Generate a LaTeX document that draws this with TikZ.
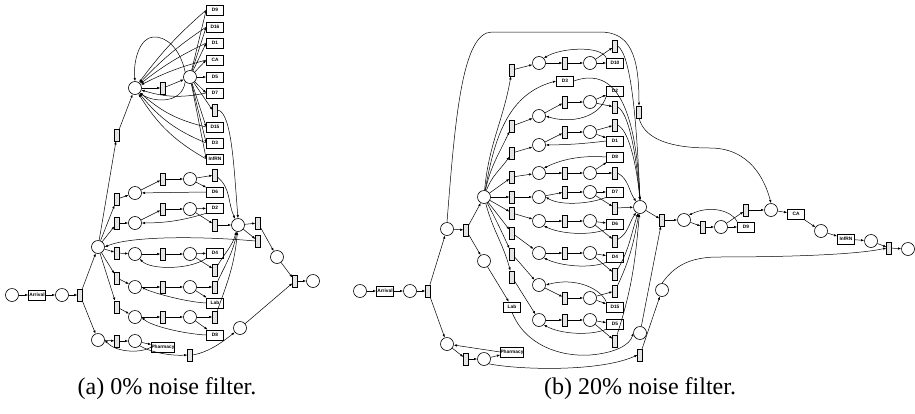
\documentclass[tikz,border=0pt]{standalone}
\usepackage{fontspec}
\setmainfont{Liberation Serif}
\setsansfont{Liberation Sans}
\usetikzlibrary{arrows.meta}
\begin{document}
\begin{tikzpicture}[x=0.5pt,y=-0.5pt,
 pl/.style={circle,draw,line width=0.3pt,minimum size=6.5pt,inner sep=0pt},
 tr/.style={rectangle,draw,fill=gray!20,line width=0.3pt,minimum width=2.3pt,minimum height=6pt,inner sep=0pt},
 bx/.style={rectangle,draw,line width=0.3pt,minimum width=8.5pt,minimum height=5pt,inner sep=0pt,font=\fontsize{2.4}{2.4}\sffamily\bfseries},
 ar/.style={-{Latex[length=1.6pt,width=1.2pt]},line width=0.25pt},
 captxt/.style={font=\fontsize{12}{14}\selectfont}]
\useasboundingbox (0,0) rectangle (915,413);
% ================= (a) =================
\node[pl] (a0) at (12,295) {};
\node[bx] (aArr) at (37,295) {Arrival};
\node[pl] (a1) at (62,295) {};
\node[tr] (at1) at (80,295) {};
\node[pl] (ahub) at (98,247) {};
\node[pl] (aph1) at (98,340) {};
\node[tr] (atph) at (117,341) {};
\node[pl] (aph2) at (135,341) {};
\node[bx,minimum width=11pt] (aPh) at (163,347) {Pharmacy};
\node[tr] (atpo) at (190,355) {};
\node[pl] (aph3) at (240,328) {};
\node[pl] (ajoin) at (238,225) {};
\node[tr] (atj1) at (258,223) {};
\node[tr] (atj2) at (258,241) {};
\node[pl] (apF) at (277,257) {};
\node[tr] (atF) at (295,281) {};
\node[pl] (aEnd) at (313,281) {};
% rows
\node[tr] (at11) at (117,199) {}; \node[pl] (ap11) at (135,193) {};
\node[tr] (at12) at (163,179) {}; \node[pl] (ap12) at (190,179) {};
\node[tr] (at13) at (215,175) {}; \node[bx] (aD6) at (215,192) {D6};
\node[tr] (at21) at (117,223) {}; \node[pl] (ap21) at (135,223) {};
\node[tr] (at22) at (163,209) {}; \node[pl] (ap22) at (190,209) {};
\node[bx] (aD2) at (215,208) {D2}; \node[tr] (at23) at (215,225) {};
\node[tr] (at31) at (117,253) {}; \node[pl] (ap31) at (135,254) {};
\node[tr] (at32) at (163,254) {}; \node[pl] (ap32) at (190,254) {};
\node[bx] (aD4) at (215,253) {D4}; \node[tr] (at33) at (215,270) {};
\node[tr] (at41) at (117,278) {}; \node[pl] (ap41) at (135,287) {};
\node[tr] (at42) at (163,287) {}; \node[pl] (ap42) at (190,287) {};
\node[tr] (at43) at (215,287) {}; \node[bx] (aLab) at (215,303) {Lab};
\node[tr] (at51) at (117,307) {}; \node[pl] (ap51) at (135,317) {};
\node[tr] (at52) at (163,317) {}; \node[pl] (ap52) at (190,317) {};
\node[tr] (at53) at (215,317) {}; \node[bx] (aD8) at (215,335) {D8};
% top
\node[tr] (atUp) at (117,135) {};
\node[pl] (aPt) at (135,88) {};
\node[tr] (atM) at (163,88) {};
\node[pl] (aPr) at (190,77) {};
\node[bx] (aD9) at (215,10) {D9};
\node[bx] (aD16) at (215,27) {D16};
\node[bx] (aD1) at (215,43) {D1};
\node[bx] (aCA) at (215,60) {CA};
\node[bx] (aD5) at (215,77) {D5};
\node[bx] (aD7) at (215,93) {D7};
\node[tr] (atx) at (215,110) {};
\node[bx] (aD15) at (215,127) {D15};
\node[bx] (aD3) at (215,143) {D3};
\node[bx] (aInf) at (215,159) {InfRN};
% edges (a)
\draw[ar] (a0)--(aArr); \draw[ar] (aArr)--(a1); \draw[ar] (a1)--(at1);
\draw[ar] (at1)--(ahub); \draw[ar] (at1)--(aph1);
\draw[ar] (ahub)--(atUp); \draw[ar] (atUp)--(aPt); \draw[ar] (aPt)--(atM); \draw[ar] (atM)--(aPr);
\foreach \b in {aD9,aD16,aD1,aCA,aD5,aD7,atx,aD15,aD3,aInf} \draw[ar] (aPr)--(\b.west);
\foreach \b in {aD9,aD16,aD1,aCA} \draw[ar] (\b.west) to[bend right=6] (aPt);
\foreach \b in {aD7,aD15,aD3,aInf} \draw[ar] (\b.west) to[bend left=14] (aPt);
\draw[ar] (aPr.north west) .. controls (180,48) and (166,36) .. (153,37) .. controls (140,38) and (133,60) .. (aPt.north);
\draw[ar] (aPr.south west) .. controls (182,105) and (152,102) .. (aPt.south east);
\draw[ar] (atx.east) .. controls (232,112) and (234,170) .. (ajoin.north);
\foreach \t in {at11,at21,at31,at41,at51} \draw[ar] (ahub)--(\t);
\draw[ar] (at11)--(ap11); \draw[ar] (ap11)--(at12); \draw[ar] (at12)--(ap12); \draw[ar] (ap12)--(at13);
\draw[ar] (ap12)--(aD6); \draw[ar] (aD6.west)--(ap11);
\draw[ar] (at13) to[out=-40,in=115] (ajoin);
\draw[ar] (at21)--(ap21); \draw[ar] (ap21)--(at22); \draw[ar] (at22)--(ap22);
\draw[ar] (ap22)--(aD2); \draw[ar] (ap22)--(at23);
\draw[ar] (aD2.south west) to[bend left=8] (ap21); \draw[ar] (at23)--(ajoin);
\draw[ar] (at31)--(ap31); \draw[ar] (ap31)--(at32); \draw[ar] (at32)--(ap32);
\draw[ar] (ap32)--(aD4); \draw[ar] (ap32)--(at33);
\draw[ar] (aD4.south west) .. controls (190,270) and (150,270) .. (ap31.south east);
\draw[ar] (at33) to[out=60,in=-105] (ajoin);
\draw[ar] (at41)--(ap41); \draw[ar] (ap41)--(at42); \draw[ar] (at42)--(ap42);
\draw[ar] (ap42)--(at43); \draw[ar] (ap42)--(aLab);
\draw[ar] (aLab.west) .. controls (185,302) and (150,292) .. (ap41.east);
\draw[ar] (at43) to[out=65,in=-100] (ajoin);
\draw[ar] (at51)--(ap51); \draw[ar] (ap51)--(at52); \draw[ar] (at52)--(ap52);
\draw[ar] (ap52)--(at53); \draw[ar] (ap52)--(aD8);
\draw[ar] (aD8.west) .. controls (185,334) and (150,326) .. (ap51.east);
\draw[ar] (at53) to[out=70,in=-95] (ajoin);
\draw[ar] (ajoin)--(atj1); \draw[ar] (ajoin)--(atj2);
\draw[ar] (atj2.west) .. controls (200,236) and (130,236) .. (ahub.east);
\draw[ar] (atj1)--(apF); \draw[ar] (apF)--(atF); \draw[ar] (atF)--(aEnd);
\draw[ar] (aph1)--(atph); \draw[ar] (atph)--(aph2); \draw[ar] (aph2)--(aPh);
\draw[ar] (aPh.west) .. controls (140,354) and (115,352) .. (aph1.east);
\draw[ar] (aph2.south east) .. controls (150,352) and (170,356) .. (atpo.west);
\draw[ar] (atpo.east) .. controls (210,352) and (225,340) .. (aph3);
\draw[ar] (aph3)--(atF);
% ================= (b) =================
\node[pl] (b0) at (360,291) {};
\node[bx] (bArr) at (385,291) {Arrival};
\node[pl] (b1) at (410,291) {};
\node[tr] (bt1) at (428,291) {};
\node[pl] (bPu) at (447,229) {};
\node[tr] (bTu) at (466,230) {};
\node[pl] (bhub) at (484,197) {};
\node[pl] (bPlab) at (484,261) {};
\node[bx] (bLab) at (512,307) {Lab};
\node[pl] (bPlow) at (447,344) {};
\node[tr] (btlow) at (466,359) {};
\node[pl] (bplow2) at (484,359) {};
\node[bx,minimum width=11pt] (bPh) at (512,352) {Pharmacy};
% rows
\node[tr] (b10a) at (512,70) {}; \node[pl] (b10b) at (539,63) {}; \node[tr] (b10c) at (565,63) {};
\node[pl] (b10d) at (590,63) {}; \node[bx] (bD10) at (615,63) {D10}; \node[tr] (b10e) at (615,46) {};
\node[bx] (bD3) at (565,81) {D3};
\node[tr] (b2a) at (512,126) {}; \node[pl] (b2b) at (539,116) {}; \node[tr] (b2c) at (565,102) {};
\node[pl] (b2d) at (590,102) {}; \node[bx] (bD2) at (615,91) {D2}; \node[tr] (b2e) at (615,107) {};
\node[tr] (b1a) at (512,153) {}; \node[pl] (b1b) at (539,145) {}; \node[tr] (b1c) at (565,132) {};
\node[pl] (b1d) at (590,132) {}; \node[tr] (b1e) at (615,125) {}; \node[bx] (bD1) at (615,141) {D1};
\node[tr] (b8a) at (512,177) {}; \node[pl] (b8b) at (539,173) {}; \node[tr] (b8c) at (565,173) {};
\node[pl] (b8d) at (590,173) {}; \node[bx] (bD8) at (615,157) {D8}; \node[tr] (b8e) at (615,173) {};
\node[tr] (b7a) at (512,197) {}; \node[pl] (b7b) at (539,197) {}; \node[tr] (b7c) at (565,192) {};
\node[pl] (b7d) at (590,192) {}; \node[bx] (bD7) at (615,192) {D7}; \node[tr] (b7e) at (615,208) {};
\node[tr] (b6a) at (512,213) {}; \node[pl] (b6b) at (539,221) {}; \node[tr] (b6c) at (565,221) {};
\node[pl] (b6d) at (590,221) {}; \node[bx] (bD6) at (615,224) {D6}; \node[tr] (b6e) at (615,241) {};
\node[tr] (b4a) at (512,233) {}; \node[pl] (b4b) at (539,253) {}; \node[tr] (b4c) at (565,253) {};
\node[pl] (b4d) at (590,253) {}; \node[bx] (bD4) at (615,257) {D4}; \node[tr] (b4e) at (615,274) {};
\node[tr] (b15a) at (512,254) {}; \node[pl] (b15b) at (539,285) {}; \node[tr] (b15c) at (565,298) {};
\node[pl] (b15d) at (590,298) {}; \node[bx] (bD15) at (615,307) {D15}; \node[tr] (b15e) at (615,291) {};
\node[tr] (b5a) at (512,277) {}; \node[pl] (b5b) at (539,320) {}; \node[tr] (b5c) at (565,320) {};
\node[pl] (b5d) at (590,320) {}; \node[bx] (bD5) at (615,324) {D5}; \node[tr] (b5e) at (615,341) {};
% right chain
\node[pl] (bjoin) at (640,207) {};
\node[tr] (btb1) at (662,220) {};
\node[pl] (bpb1) at (684,220) {};
\node[tr] (btb2) at (703,227) {};
\node[pl] (bpb2) at (721,227) {};
\node[bx] (bD9) at (746,227) {D9};
\node[tr] (btb3) at (746,210) {};
\node[pl] (bpb3) at (771,210) {};
\node[bx] (bCA) at (796,214) {CA};
\node[pl] (bpb4) at (821,231) {};
\node[bx] (bInf) at (846,239) {InfRN};
\node[pl] (bpb5) at (871,241) {};
\node[tr] (btbE) at (889,248) {};
\node[pl] (bEnd) at (908,249) {};
\node[tr] (btTop) at (639,112) {};
\node[pl] (bpLo) at (640,333) {};
\node[tr] (btPo) at (640,355) {};
\node[pl] (bpph) at (662,290) {};
% edges (b)
\draw[ar] (b0)--(bArr); \draw[ar] (bArr)--(b1); \draw[ar] (b1)--(bt1);
\draw[ar] (bt1)--(bPu); \draw[ar] (bt1)--(bPlow);
\draw[ar] (bPu)--(bTu); \draw[ar] (bTu)--(bhub); \draw[ar] (bTu)--(bPlab); \draw[ar] (bPlab)--(bLab);
\draw[ar] (bPlow)--(btlow); \draw[ar] (btlow)--(bplow2); \draw[ar] (bplow2)--(bPh);
\draw[ar] (bPh.west)--(bPlow);
\draw[ar] (bhub) to[out=85,in=-100] (b10a);
\draw[ar] (bhub) to[out=80,in=195] (bD3.west);
\draw[ar] (bhub) to[out=78,in=-115] (b2a);
\draw[ar] (bhub) to[out=70,in=-125] (b1a);
\draw[ar] (bhub)--(b8a); \draw[ar] (bhub)--(b7a); \draw[ar] (bhub)--(b6a); \draw[ar] (bhub)--(b4a);
\draw[ar] (bhub) to[out=-62,in=115] (b15a);
\draw[ar] (bhub) to[out=-75,in=105] (b5a);
\foreach \r in {10,2,1,8,7,6,4,15,5} {
  \draw[ar] (b\r a)--(b\r b); \draw[ar] (b\r b)--(b\r c); \draw[ar] (b\r c)--(b\r d);
  \draw[ar] (b\r d)--(bD\r); \draw[ar] (b\r d)--(b\r e);
}
\draw[ar] (bD10.north west) .. controls (600,45) and (560,48) .. (b10b.north east);
\draw[ar] (bD2.south west) .. controls (600,118) and (570,124) .. (b2b.east);
\draw[ar] (bD1.west) to[bend left=3] (b1b.east);
\draw[ar] (bD8.west) .. controls (580,155) and (560,160) .. (b8b.north east);
\draw[ar] (bD7.south west) .. controls (590,204) and (560,206) .. (b7b.east);
\draw[ar] (bD6.south west) .. controls (590,236) and (560,234) .. (b6b.south east);
\draw[ar] (bD4.south west) .. controls (590,269) and (560,266) .. (b4b.south east);
\draw[ar] (bD15.north west) .. controls (600,288) and (575,277) .. (b15b.east);
\draw[ar] (bD5.south west) .. controls (590,336) and (560,334) .. (b5b.south east);
\draw[ar] (b10e.east) .. controls (632,55) and (637,130) .. (bjoin.north);
\draw[ar] (bD3.east) .. controls (605,70) and (635,85) .. (bjoin.north);
\draw[ar] (b2e.east) .. controls (628,112) and (636,150) .. (bjoin.north);
\draw[ar] (b1e.east) .. controls (628,130) and (636,160) .. (bjoin.north);
\draw[ar] (b8e.east) to[out=-30,in=125] (bjoin);
\draw[ar] (b7e)--(bjoin);
\draw[ar] (b6e) to[out=30,in=-125] (bjoin);
\draw[ar] (b4e) to[out=60,in=-108] (bjoin);
\draw[ar] (b15e) to[out=65,in=-100] (bjoin);
\draw[ar] (b5e) to[out=72,in=-95] (bjoin);
\draw[ar] (bjoin)--(btb1); \draw[ar] (btb1)--(bpb1); \draw[ar] (bpb1)--(btb2); \draw[ar] (btb2)--(bpb2);
\draw[ar] (bpb2)--(bD9); \draw[ar] (bpb2)--(btb3); \draw[ar] (btb3)--(bpb3); \draw[ar] (bpb3)--(bCA);
\draw[ar] (bCA)--(bpb4); \draw[ar] (bpb4)--(bInf); \draw[ar] (bInf)--(bpb5); \draw[ar] (bpb5)--(btbE);
\draw[ar] (btbE)--(bEnd);
\draw[ar] (bD9.north west) .. controls (733,212) and (712,204) .. (bpb1.north east);
\draw[ar] (bPu.north) .. controls (455,120) and (462,32) .. (492,32) -- (600,32) .. controls (630,32) and (639,55) .. (btTop.north);
\draw[ar] (btTop.south) .. controls (645,140) and (672,148) .. (710,148) .. controls (750,148) and (765,180) .. (bpb3.north);
\draw[ar] (bLab.south) .. controls (525,345) and (560,357) .. (590,355) .. controls (615,353) and (630,345) .. (bpLo.west);
\draw[ar] (bplow2.south east) .. controls (520,370) and (600,372) .. (btPo.west);
\draw[ar] (bpLo)--(btb1); \draw[ar] (btPo)--(bpph);
\draw[ar] (bpph.north) .. controls (675,265) and (690,258) .. (715,257) .. controls (800,257) and (860,254) .. (btbE.west);
% captions
\node[captxt] (capa) at (167,389) {(a) 0\% noise filter.};
\node[captxt] (capb) at (640,389) {(b) 20\% noise filter.};
\end{tikzpicture}
\end{document}
